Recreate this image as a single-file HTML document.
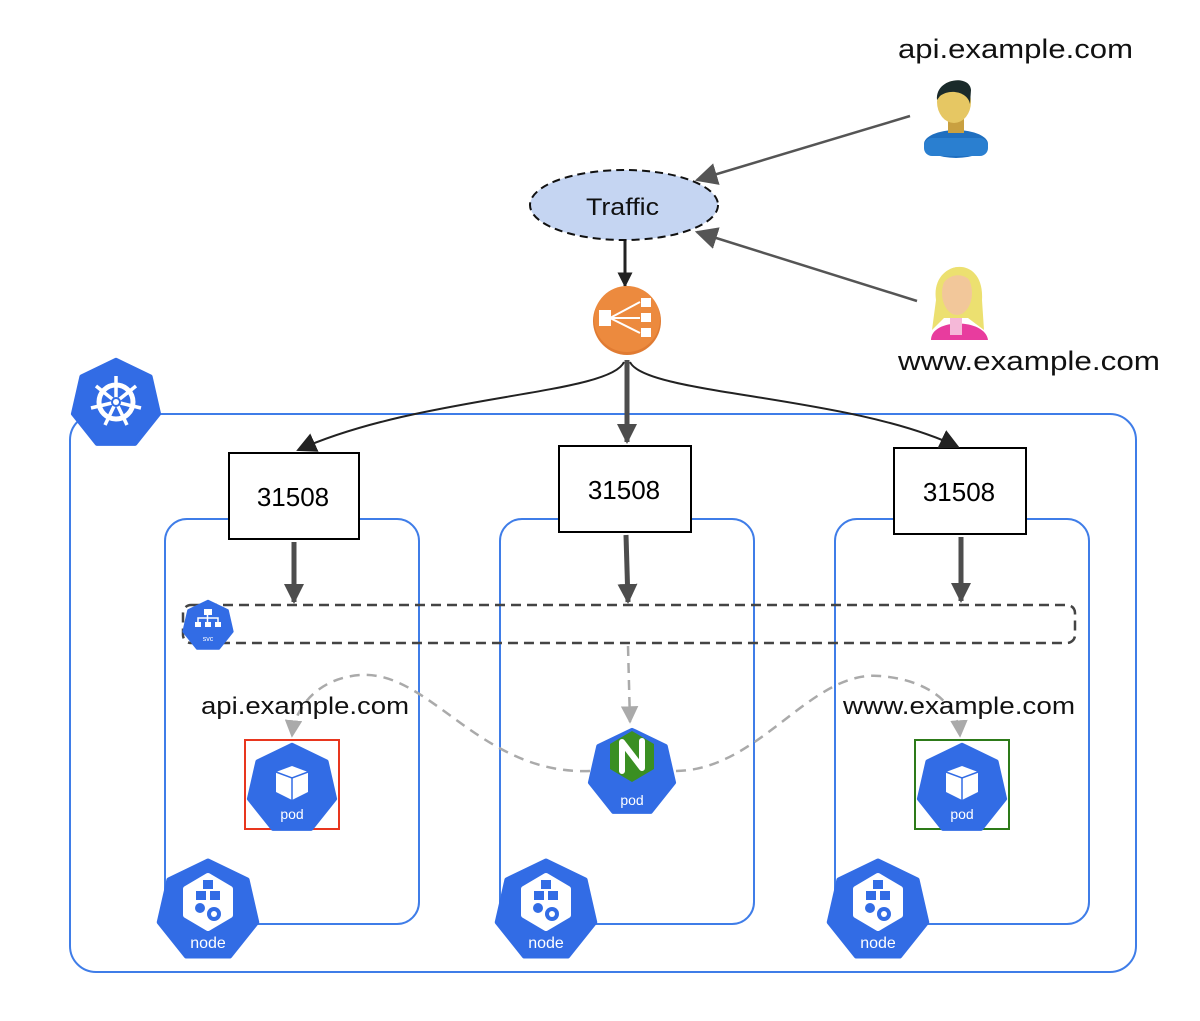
<!DOCTYPE html>
<html><head><meta charset="utf-8"><style>
html,body{margin:0;padding:0;background:#fff}
svg{display:block}
text{font-family:"Liberation Sans",sans-serif}
</style></head><body>
<svg width="1200" height="1021" viewBox="0 0 1200 1021" xmlns="http://www.w3.org/2000/svg">
<defs>
<polygon id="hep" points="0,-1 0.782,-0.623 0.975,0.223 0.434,0.901 -0.434,0.901 -0.975,0.223 -0.782,-0.623" fill="#326ce5" stroke="#326ce5" stroke-width="0.1" stroke-linejoin="round"/>
<marker id="ah" viewBox="0 0 10 10" refX="9" refY="5" markerWidth="4" markerHeight="4" orient="auto"><path d="M0,0L10,5L0,10z" fill="#4d4d4d"/></marker>
<marker id="ahb" viewBox="0 0 10 10" refX="9" refY="5" markerWidth="5" markerHeight="5" orient="auto"><path d="M0,0L10,5L0,10z" fill="#222"/></marker>
<marker id="ahc" viewBox="0 0 10 10" refX="9" refY="5" markerWidth="10" markerHeight="10" orient="auto"><path d="M0,0L10,5L0,10z" fill="#222"/></marker>
<marker id="ahg" viewBox="0 0 10 10" refX="9" refY="5" markerWidth="7" markerHeight="7" orient="auto"><path d="M0,0L10,5L0,10z" fill="#aaa"/></marker>
<marker id="ahu" viewBox="0 0 10 10" refX="9" refY="5" markerWidth="9" markerHeight="9" orient="auto"><path d="M0,0L10,5L0,10z" fill="#555"/></marker>
</defs>

<rect x="70" y="414" width="1066" height="558" rx="26" fill="none" stroke="#3f7de8" stroke-width="2"/>
<rect x="165" y="519" width="254" height="405" rx="22" fill="none" stroke="#3f7de8" stroke-width="2"/>
<rect x="500" y="519" width="254" height="405" rx="22" fill="none" stroke="#3f7de8" stroke-width="2"/>
<rect x="835" y="519" width="254" height="405" rx="22" fill="none" stroke="#3f7de8" stroke-width="2"/>

<rect x="183" y="605" width="892" height="38" rx="8" fill="none" stroke="#444" stroke-width="2.5" stroke-dasharray="10,6"/>

<use href="#hep" transform="translate(116,404) scale(44)"/>
<g transform="translate(116,402)" stroke="#fff" fill="none">
<circle r="17" stroke-width="5"/>
<g stroke-width="3.5">
<line x1="0" y1="0" x2="0" y2="-26"/><line x1="0" y1="0" x2="20" y2="-16"/><line x1="0" y1="0" x2="25" y2="6"/><line x1="0" y1="0" x2="11" y2="23"/><line x1="0" y1="0" x2="-11" y2="23"/><line x1="0" y1="0" x2="-25" y2="6"/><line x1="0" y1="0" x2="-20" y2="-16"/>
</g>
<circle r="5" fill="#326ce5" stroke="none"/><circle r="3" fill="#fff" stroke="none"/>
</g>

<use href="#hep" transform="translate(208,626) scale(25)"/>
<g fill="#fff"><rect x="204" y="609" width="8" height="6"/><rect x="195" y="622" width="6" height="5"/><rect x="205" y="622" width="6" height="5"/><rect x="215" y="622" width="6" height="5"/>
<path d="M207.5,615v7M198,622v-4h20v4" stroke="#fff" stroke-width="1.5" fill="none"/></g>
<text x="208" y="641" font-size="7" fill="#fff" text-anchor="middle">svc</text>

<g fill="#fff" stroke="#000" stroke-width="2">
<rect x="229" y="453" width="130" height="86"/><rect x="559" y="446" width="132" height="86"/><rect x="894" y="448" width="132" height="86"/>
</g>
<g font-size="26" text-anchor="middle" fill="#000">
<text x="293" y="506">31508</text><text x="624" y="499">31508</text><text x="959" y="501">31508</text>
</g>

<g stroke="#4d4d4d" stroke-width="5" marker-end="url(#ah)">
<line x1="294" y1="542" x2="294" y2="602"/><line x1="626" y1="535" x2="628" y2="602"/><line x1="961" y1="537" x2="961" y2="601"/>
</g>

<g fill="none" stroke="#222" stroke-width="2" marker-end="url(#ahc)">
<path d="M624,362 C610,395 420,395 298,450"/>
<path d="M630,362 C645,395 850,395 958,447"/>
</g>
<line x1="627" y1="360" x2="627" y2="442" stroke="#4d4d4d" stroke-width="5" marker-end="url(#ah)"/>

<ellipse cx="624" cy="205" rx="94" ry="35" fill="#c5d5f2" stroke="#111" stroke-width="2" stroke-dasharray="8,5"/>
<text x="586" y="215" font-size="24" fill="#111" textLength="73" lengthAdjust="spacingAndGlyphs">Traffic</text>
<line x1="625" y1="241" x2="625" y2="286" stroke="#222" stroke-width="3" marker-end="url(#ahb)"/>

<g stroke="#555" stroke-width="2.5" marker-end="url(#ahu)">
<line x1="910" y1="116" x2="697" y2="180"/><line x1="917" y1="301" x2="697" y2="232"/>
</g>

<circle cx="627" cy="321" r="34" fill="#e07b32"/>
<circle cx="627" cy="319" r="33" fill="#ec8a3e"/>
<g fill="#fff">
<rect x="599" y="310" width="12" height="16"/>
<rect x="641" y="298" width="10" height="9"/><rect x="641" y="313" width="10" height="9"/><rect x="641" y="328" width="10" height="9"/>
<path d="M610,318 L640,302 M610,318 L640,318 M610,318 L640,333" stroke="#fff" stroke-width="2"/>
</g>

<g>
<ellipse cx="956" cy="144" rx="32" ry="14" fill="#1f6fc0"/>
<rect x="924" y="138" width="64" height="18" rx="8" fill="#2a7fd0"/>
<rect x="948" y="115" width="16" height="18" fill="#c9a040"/>
<ellipse cx="954" cy="102" rx="17" ry="21" fill="#e6c763"/>
<path d="M937,100 C935,78 970,74 971,90 L970,104 C968,92 950,88 940,96z" fill="#1a2a2a"/>
</g>
<g>
<path d="M931,340 C931,318 985,318 988,340z" fill="#e83c9e"/>
<rect x="950" y="317" width="12" height="18" fill="#f5b8d8"/>
<path d="M936,300 C930,260 985,252 982,300 L984,330 L968,318 L944,318 L932,330z" fill="#ece070"/>
<ellipse cx="957" cy="293" rx="15" ry="22" fill="#f2c79a"/>
<path d="M942,285 C942,262 974,260 974,285 C966,272 950,272 942,285z" fill="#ece070"/>
</g>
<g font-size="27" fill="#111">
<text x="898" y="58" textLength="235" lengthAdjust="spacingAndGlyphs">api.example.com</text>
<text x="898" y="370" textLength="262" lengthAdjust="spacingAndGlyphs">www.example.com</text>
</g>

<g fill="none" stroke="#aaa" stroke-width="2.5" stroke-dasharray="10,7">
<path d="M628,646 L630,722" marker-end="url(#ahg)"/>
<path d="M590,771 C480,775 430,670 360,675 C320,678 295,705 292,736" marker-end="url(#ahg)"/>
<path d="M676,771 C760,770 810,670 880,676 C930,680 958,705 960,736" marker-end="url(#ahg)"/>
</g>
<g font-size="24" fill="#111">
<text x="201" y="714" textLength="208" lengthAdjust="spacingAndGlyphs">api.example.com</text>
<text x="843" y="714" textLength="232" lengthAdjust="spacingAndGlyphs">www.example.com</text>
</g>

<rect x="245" y="740" width="94" height="89" fill="none" stroke="#e8361e" stroke-width="2"/>
<rect x="915" y="740" width="94" height="89" fill="none" stroke="#2d7a19" stroke-width="2"/>
<use href="#hep" transform="translate(292,789) scale(44)"/>
<path d="M292,766 L308,772 L308,792 L292,800 L276,792 L276,772z" fill="#fff"/>
<path d="M276,772 L292,778 L308,772 M292,778 L292,800" stroke="#326ce5" stroke-width="1.5" fill="none"/>
<text x="292" y="819" font-size="14" fill="#fff" text-anchor="middle">pod</text>
<use href="#hep" transform="translate(962,789) scale(44)"/>
<path d="M962,766 L978,772 L978,792 L962,800 L946,792 L946,772z" fill="#fff"/>
<path d="M946,772 L962,778 L978,772 M962,778 L962,800" stroke="#326ce5" stroke-width="1.5" fill="none"/>
<text x="962" y="819" font-size="14" fill="#fff" text-anchor="middle">pod</text>

<use href="#hep" transform="translate(632,773) scale(43)"/>
<polygon points="632,731 654,744 654,769 632,782 610,769 610,744" fill="#3a8f22"/>
<path d="M622,771 V742 L642,768 V741" stroke="#fff" stroke-width="6" fill="none" stroke-linecap="round" stroke-linejoin="round"/>
<text x="632" y="805" font-size="14" fill="#fff" text-anchor="middle">pod</text>

<g id="n1">
<use href="#hep" transform="translate(208,911) scale(50)"/>
<polygon points="208,876 230,889 230,915 208,928 186,915 186,889" fill="#fff" stroke="#fff" stroke-width="6" stroke-linejoin="round"/>
<g fill="#326ce5"><rect x="203" y="880" width="10" height="9"/><rect x="196" y="891" width="10" height="9"/><rect x="210" y="891" width="10" height="9"/>
<circle cx="200" cy="908" r="5"/><circle cx="214" cy="914" r="7"/></g>
<circle cx="214" cy="914" r="3" fill="#fff"/>
<text x="208" y="948" font-size="16" fill="#fff" text-anchor="middle">node</text>
</g>
<use href="#n1" transform="translate(338,0)"/>
<use href="#n1" transform="translate(670,0)"/>
</svg>
</body></html>
